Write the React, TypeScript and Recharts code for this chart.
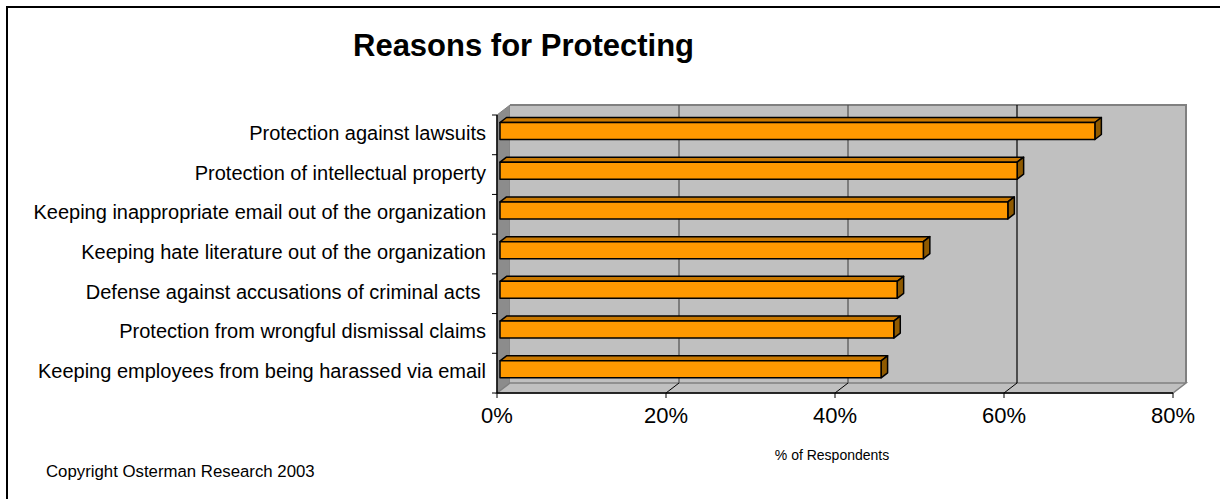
import React from 'react';
import { BarChart, Bar, XAxis, YAxis, ReferenceArea, ReferenceLine } from 'recharts';

const categories = [
  'Protection against lawsuits',
  'Protection of intellectual property',
  'Keeping inappropriate email out of the organization',
  'Keeping hate literature out of the organization',
  'Defense against accusations of criminal acts ',
  'Protection from wrongful dismissal claims',
  'Keeping employees from being harassed via email',
];
const values = [70.4, 61.2, 60.1, 50.1, 47.0, 46.6, 45.1];
const xTicks = [0, 20, 40, 60, 80];
const gridTicks = [20, 40, 60];
const titleText = 'Reasons for Protecting';
const axisTitle = '% of Respondents';
const copyrightText = 'Copyright Osterman Research 2003';

const data = categories.map((name, i) => ({ name, value: values[i] }));

const FONT = '"Liberation Sans", Arial, Helvetica, sans-serif';
const W = 1212;
const H = 491;
const DX = 13;
const DY = 10;
const BDX = 6.5;
const BDY = 5;
const SHIFT_X = 3;
const SHIFT_Y = -3.5;

const Walls = (props: any) => {
  const { x, y, width, height } = props;
  const n = categories.length;
  const bottom = y + height;
  const right = x + width;
  const marks = [];
  for (let i = 0; i <= n; i++) {
    const yy = y + (height * i) / n;
    marks.push(<line key={i} x1={x - 5} y1={yy} x2={x} y2={yy} stroke="#000" strokeWidth={1} />);
  }
  return (
    <g>
      <polygon
        points={`${x},${y} ${x + DX},${y - DY} ${x + DX},${bottom - DY} ${x},${bottom}`}
        fill="#8c8c8c"
        stroke="#808080"
        strokeWidth={1}
      />
      <rect x={x + DX} y={y - DY} width={width} height={height} fill="#c0c0c0" />
      <polyline
        points={`${x + DX},${y - DY} ${right + DX},${y - DY} ${right + DX},${bottom - DY}`}
        fill="none"
        stroke="#808080"
        strokeWidth={2}
      />
      <polygon
        points={`${x},${bottom} ${x + DX},${bottom - DY} ${right + DX},${bottom - DY} ${right},${bottom}`}
        fill="#c0c0c0"
        stroke="#808080"
        strokeWidth={1.5}
      />
      {marks}
    </g>
  );
};

const GridLine = (color: string) => (props: any) => {
  const { x1, y1, y2 } = props;
  const top = Math.min(y1, y2);
  const bottom = Math.max(y1, y2);
  return (
    <g>
      <line x1={x1} y1={bottom} x2={x1 + DX} y2={bottom - DY} stroke="#000" strokeWidth={1} />
      <line x1={x1 + DX} y1={top - DY} x2={x1 + DX} y2={bottom - DY} stroke={color} strokeWidth={1.2} />
    </g>
  );
};

const Bar3D = (props: any) => {
  const { x, y, width, height } = props;
  const fx = x + SHIFT_X;
  const fy = y + SHIFT_Y;
  const w = width;
  const h = height;
  return (
    <g stroke="#000" strokeWidth={1.5} strokeLinejoin="round">
      <polygon
        points={`${fx},${fy} ${fx + BDX},${fy - BDY} ${fx + w + BDX},${fy - BDY} ${fx + w},${fy}`}
        fill="#c97800"
      />
      <polygon
        points={`${fx + w},${fy} ${fx + w + BDX},${fy - BDY} ${fx + w + BDX},${fy + h - BDY} ${fx + w},${fy + h}`}
        fill="#8f5a00"
      />
      <rect x={fx} y={fy} width={w} height={h} fill="#ff9900" />
    </g>
  );
};

const CategoryTick = (props: any) => {
  const { x, y, payload } = props;
  return (
    <text
      x={x}
      y={y}
      dy={-2}
      textAnchor="end"
      dominantBaseline="central"
      fontFamily={FONT}
      fontSize={20}
      fill="#000"
      style={{ whiteSpace: 'pre' }}
    >
      {payload.value}
    </text>
  );
};

export default function App() {
  return (
    <div style={{ position: 'fixed', left: 0, top: 0, width: 1220, height: 499, overflow: 'hidden', background: '#fff' }}>
      <div
        style={{
          position: 'absolute',
          left: 6,
          top: 6,
          width: 1300,
          height: 600,
          borderTop: '2px solid #000',
          borderLeft: '2px solid #000',
          background: '#fff',
        }}
      >
        <div style={{ position: 'relative', width: W, height: H }}>
          <BarChart
            width={W}
            height={H}
            data={data}
            layout="vertical"
            margin={{ top: 107, right: 47, bottom: 66, left: 0 }}
          >
            <ReferenceArea
              x1={0}
              x2={80}
              ifOverflow="visible"
              zIndex={-60}
              shape={Walls}
            />
            {gridTicks.map((t) => (
              <ReferenceLine
                key={t}
                x={t}
                ifOverflow="visible"
                zIndex={-40}
                shape={GridLine(t === 60 ? '#000' : '#505050')}
              />
            ))}
            <XAxis
              type="number"
              domain={[0, 80]}
              ticks={xTicks}
              interval={0}
              height={40}
              tickFormatter={(v: number) => `${v}%`}
              axisLine={{ stroke: '#000', strokeWidth: 1.5 }}
              tickLine={{ stroke: '#000' }}
              tickSize={5}
              tickMargin={9}
              tick={{ fill: '#000', fontSize: 22, fontFamily: FONT }}
            />
            <YAxis
              type="category"
              dataKey="name"
              width={489}
              axisLine={{ stroke: '#000', strokeWidth: 1.5 }}
              tickLine={false}
              tickSize={5}
              tickMargin={6}
              interval={0}
              tick={<CategoryTick />}
            />
            <Bar dataKey="value" barSize={17} isAnimationActive={false} shape={Bar3D} />
          </BarChart>
          <svg
            width={W}
            height={H}
            style={{ position: 'absolute', left: 0, top: 0, pointerEvents: 'none' }}
          >
            <text x={345} y={48} textAnchor="start" fontFamily={FONT} fontWeight="bold" fontSize={31} fill="#000">
              {titleText}
            </text>
            <text x={824} y={452} textAnchor="middle" fontFamily={FONT} fontSize={14} fill="#000">
              {axisTitle}
            </text>
            <text x={38} y={469} textAnchor="start" fontFamily={FONT} fontSize={16.8} fill="#000">
              {copyrightText}
            </text>
          </svg>
        </div>
      </div>
    </div>
  );
}
